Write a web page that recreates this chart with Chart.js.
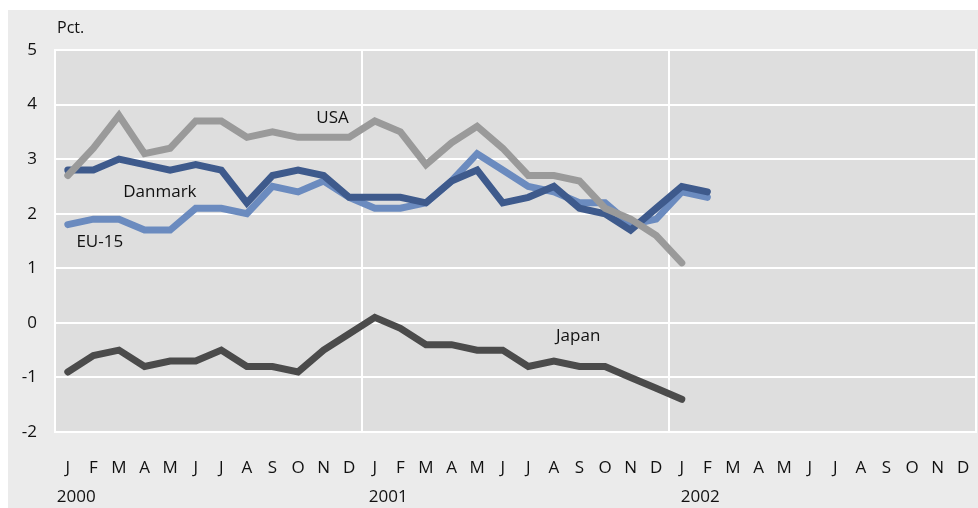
<!DOCTYPE html>
<html>
<head>
<meta charset="utf-8">
<script src="https://cdn.jsdelivr.net/npm/chart.js@4"></script>
<style>
html,body{margin:0;padding:0;background:#fff;}
#wrap{width:978px;height:508px;position:relative;}
</style>
</head>
<body>
<div id="wrap"><canvas id="c" width="978" height="508"></canvas></div>
<script>
const months = ["J","F","M","A","M","J","J","A","S","O","N","D",
                "J","F","M","A","M","J","J","A","S","O","N","D",
                "J","F","M","A","M","J","J","A","S","O","N","D"];
const years = ["2000","2001","2002"];
const yTicks = [-2,-1,0,1,2,3,4,5];

const usa = [2.7,3.2,3.8,3.1,3.2,3.7,3.7,3.4,3.5,3.4,3.4,3.4,
             3.7,3.5,2.9,3.3,3.6,3.2,2.7,2.7,2.6,2.1,1.9,1.6,
             1.1,null,null,null,null,null,null,null,null,null,null,null];
const danmark = [2.8,2.8,3.0,2.9,2.8,2.9,2.8,2.2,2.7,2.8,2.7,2.3,
                 2.3,2.3,2.2,2.6,2.8,2.2,2.3,2.5,2.1,2.0,1.7,2.1,
                 2.5,2.4,null,null,null,null,null,null,null,null,null,null];
const eu15 = [1.8,1.9,1.9,1.7,1.7,2.1,2.1,2.0,2.5,2.4,2.6,2.3,
              2.1,2.1,2.2,2.6,3.1,2.8,2.5,2.4,2.2,2.2,1.8,1.9,
              2.4,2.3,null,null,null,null,null,null,null,null,null,null];
const japan = [-0.9,-0.6,-0.5,-0.8,-0.7,-0.7,-0.5,-0.8,-0.8,-0.9,-0.5,-0.2,
               0.1,-0.1,-0.4,-0.4,-0.5,-0.5,-0.8,-0.7,-0.8,-0.8,-1.0,-1.2,
               -1.4,null,null,null,null,null,null,null,null,null,null,null];

// series label anchors: [text, category index (fractional), value]
const seriesLabels = [
  ["USA", 10.35, 3.75],
  ["Danmark", 3.6, 2.4],
  ["EU-15", 1.25, 1.48],
  ["Japan", 19.95, -0.24]
];

const FONT = '"Open Sans", "Noto Sans", sans-serif';

const deco = {
  id: 'deco',
  beforeDraw(chart) {
    const ctx = chart.ctx, a = chart.chartArea;
    ctx.save();
    ctx.fillStyle = '#ffffff';
    ctx.fillRect(0, 0, chart.width, chart.height);
    ctx.fillStyle = '#ebebeb';
    ctx.fillRect(8, 10, chart.width - 8, chart.height - 10);
    ctx.fillStyle = '#dedede';
    ctx.fillRect(a.left, a.top, a.right - a.left, a.bottom - a.top);
    ctx.restore();
  },
  beforeDatasetsDraw(chart) {
    const ctx = chart.ctx, a = chart.chartArea;
    ctx.save();
    ctx.strokeStyle = '#ffffff';
    ctx.lineWidth = 2;
    ctx.strokeRect(a.left, a.top, a.right - a.left, a.bottom - a.top);
    ctx.restore();
  },
  afterDraw(chart) {
    const ctx = chart.ctx, a = chart.chartArea;
    const xs = chart.scales.x, ys = chart.scales.y;
    ctx.save();
    ctx.fillStyle = '#111';
    ctx.font = '16px ' + FONT;
    ctx.textBaseline = 'middle';
    ctx.textAlign = 'left';
    ctx.fillText('Pct.', a.left + 2, 28);
    ctx.font = '17px ' + FONT;
    const yearShift = [-11, -6, -1];
    years.forEach((y, i) => {
      const px = xs.getPixelForValue(i * 12) + yearShift[i];
      ctx.fillText(y, px, 497);
    });
    ctx.font = '17px ' + FONT;
    ctx.textAlign = 'center';
    const step = xs.getPixelForValue(1) - xs.getPixelForValue(0);
    seriesLabels.forEach(([t, idx, v]) => {
      const px = xs.getPixelForValue(0) + idx * step;
      ctx.fillText(t, px, ys.getPixelForValue(v));
    });
    ctx.restore();
  }
};

new Chart(document.getElementById('c'), {
  type: 'line',
  data: {
    labels: months,
    datasets: [
      {label:'USA', data: usa, borderColor:'#9a9a9a'},
      {label:'Danmark', data: danmark, borderColor:'#3e5a8c'},
      {label:'EU-15', data: eu15, borderColor:'#6b8bbf'},
      {label:'Japan', data: japan, borderColor:'#4b4b4b'}
    ].map(d => Object.assign(d, {
      borderWidth: 7, pointRadius: 0, pointHoverRadius: 0, tension: 0,
      fill: false, borderCapStyle: 'round', borderJoinStyle: 'miter', spanGaps: false
    }))
  },
  options: {
    responsive: false,
    animation: false,
    events: [],
    layout: {padding: {left: 0, top: 50, right: 2, bottom: 0}},
    plugins: {legend: {display: false}, tooltip: {enabled: false}},
    scales: {
      x: {
        type: 'category',
        offset: true,
        grid: {
          offset: true,
          drawTicks: false,
          lineWidth: 2,
          color: (c) => (c.index % 12 === 0 ? '#ffffff' : 'rgba(0,0,0,0)')
        },
        border: {display: false},
        ticks: {
          autoSkip: false, maxRotation: 0, padding: 26,
          color: '#111', font: {family: FONT, size: 17}
        },
        afterFit(s) { s.height = 76; s.paddingLeft = 0; s.paddingRight = 0; }
      },
      y: {
        min: -2, max: 5,
        afterBuildTicks(s) { s.ticks = yTicks.map(v => ({value: v})); },
        grid: {drawTicks: false, lineWidth: 2, color: '#ffffff'},
        border: {display: false},
        ticks: {padding: 18, color: '#111', font: {family: FONT, size: 17}},
        afterFit(s) { s.width = 55; }
      }
    }
  },
  plugins: [deco]
});
</script>
</body>
</html>
